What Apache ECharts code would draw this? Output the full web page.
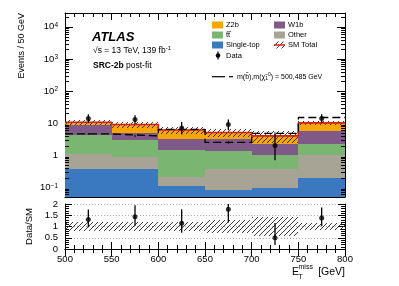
<!DOCTYPE html>
<html><head><meta charset="utf-8">
<script src="https://cdn.jsdelivr.net/npm/echarts@6/dist/echarts.min.js"></script>
<style>html,body{margin:0;padding:0;background:#fff}#c{width:399px;height:286px}</style>
</head><body><div id="c"></div>
<script>
// ---- data ----
const binEdges   = [500, 550, 600, 650, 700, 750, 800];
const singleTop  = [0.38, 0.36, 0.107, 0.081, 0.098, 0.20];
const other      = [0.73, 0.53, 0.11, 0.28, 0.28, 0.80];
const ttbar      = [3.1, 2.0, 1.21, 1.0, 0.67, 1.3];
const w1b        = [4.5, 2.2, 1.87, 1.8, 1.25, 3.5];
const z2b        = [2.0, 4.0, 2.8, 1.94, 1.7, 4.4];
const totalUnc   = [2.1, 1.8, 1.35, 1.4, 1.6, 1.5];
const dataVals   = [14, 13, 7, 9, 2, 14];
const dataErrUp  = [4.8, 4.7, 3.8, 4.1, 2.6, 4.8];
const dataErrDn  = [3.7, 3.6, 2.6, 3.0, 1.3, 3.7];
const signal     = [4.6, 4.0, 6.4, 2.5, 4.8, 15];
const signalErr  = [0.3, 0.3, 0.4, 0.25, 0.4, 0.8];
const yMainMin = 0.05, yMainMax = 27000;

const FONT = 'Liberation Sans';
const colors = {z2b:'#f9a602', w1b:'#7f5a88', ttbar:'#7ab571', other:'#a7a495', st:'#3a79c0', red:'#d41e1e'};

// hatch pattern
function makeHatch(){
  const s = 5, c = document.createElement('canvas');
  c.width = s; c.height = s;
  const g = c.getContext('2d');
  g.strokeStyle = '#222'; g.lineWidth = 0.9;
  g.beginPath();
  g.moveTo(0, s); g.lineTo(s, 0);
  g.moveTo(-1, 1); g.lineTo(1, -1);
  g.moveTo(s-1, s+1); g.lineTo(s+1, s-1);
  g.stroke();
  return c;
}
const hatch = {image: makeHatch(), repeat: 'repeat'};

const nb = singleTop.length;
const comps = [singleTop, other, ttbar, w1b, z2b];
const compColors = [colors.st, colors.other, colors.ttbar, colors.w1b, colors.z2b];
const totals = [];
for (let j = 0; j < nb; j++) totals.push(comps.reduce((a, c) => a + c[j], 0));
const centers = binEdges.slice(0, nb).map((e, j) => (e + binEdges[j+1]) / 2);

function stackData(k){
  const out = [];
  for (let j = 0; j < nb; j++){
    let lo = 0; for (let i = 0; i < k; i++) lo += comps[i][j];
    const hi = lo + comps[k][j];
    out.push([binEdges[j], binEdges[j+1], Math.max(lo, yMainMin), hi]);
  }
  return out;
}
function rectRender(fillFn){
  return function(params, api){
    const p0 = api.coord([api.value(0), api.value(2)]);
    const p1 = api.coord([api.value(1), api.value(3)]);
    const x0 = Math.round(p0[0]), x1 = Math.round(p1[0]);
    const yTop = Math.round(p1[1]), yBot = Math.round(p0[1]);
    return {type:'rect', shape:{x:x0, y:yTop, width:x1-x0, height:yBot-yTop},
      style:{fill: fillFn ? fillFn : api.visual('color')}};
  };
}
function errRender(w){
  return function(params, api){
    const a = api.coord([api.value(0), api.value(2)]);
    const b = api.coord([api.value(0), api.value(3)]);
    return {type:'line', shape:{x1:a[0], y1:a[1], x2:b[0], y2:b[1]}, style:{stroke:'#000', lineWidth:w}};
  };
}
function stepData(vals){
  const d = vals.map((v, j) => [binEdges[j], v]);
  d.push([binEdges[nb], vals[nb-1]]);
  return d;
}

const series = [];
comps.forEach((c, k) => {
  series.push({type:'custom', xAxisIndex:0, yAxisIndex:0, clip:true, silent:true,
    itemStyle:{color:compColors[k]}, encode:{x:[0,1], y:[2,3]},
    renderItem: rectRender(null), data: stackData(k), z:2});
});
// uncertainty hatch main
series.push({type:'custom', xAxisIndex:0, yAxisIndex:0, clip:true, silent:true, encode:{x:[0,1], y:[2,3]},
  renderItem: rectRender(hatch), z:3,
  data: totals.map((t, j) => [binEdges[j], binEdges[j+1], t - totalUnc[j], t + totalUnc[j]])});
// red total line
series.push({type:'line', xAxisIndex:0, yAxisIndex:0, step:'end', symbol:'none', silent:true, z:4,
  lineStyle:{color:colors.red, width:1.6}, data: stepData(totals)});
// signal dashed
series.push({type:'line', xAxisIndex:0, yAxisIndex:0, step:'end', symbol:'none', silent:true, z:5,
  lineStyle:{color:'#000', width:1.3, type:[8,4]}, data: stepData(signal)});
series.push({type:'custom', xAxisIndex:0, yAxisIndex:0, clip:true, silent:true, z:5, encode:{x:0, y:[2,3]},
  renderItem: errRender(1), data: signal.map((s, j) => [centers[j], s, s - signalErr[j], s + signalErr[j]])});
// data
series.push({type:'custom', xAxisIndex:0, yAxisIndex:0, clip:true, silent:true, z:6, encode:{x:0, y:[2,3]},
  renderItem: errRender(1.3), data: dataVals.map((v, j) => [centers[j], v, v - dataErrDn[j], v + dataErrUp[j]])});
series.push({type:'scatter', xAxisIndex:0, yAxisIndex:0, symbol:'circle', symbolSize:5, silent:true, z:7,
  itemStyle:{color:'#000'}, data: dataVals.map((v, j) => [centers[j], v])});
// log minor ticks (main)
const minorVals = [];
for (let d = -2; d <= 4; d++) for (let k = 2; k <= 9; k++){ const v = k * Math.pow(10, d); if (v > yMainMin && v < yMainMax) minorVals.push([500, v]); }
series.push({type:'custom', xAxisIndex:0, yAxisIndex:0, silent:true, z:10, encode:{x:0, y:1},
  renderItem: function(params, api){
    const l = api.coord([500, api.value(1)]), r = api.coord([800, api.value(1)]);
    const y = Math.round(l[1]) + 0.5;
    return {type:'group', children:[
      {type:'line', shape:{x1:l[0], y1:y, x2:l[0]+4, y2:y}, style:{stroke:'#000', lineWidth:1}},
      {type:'line', shape:{x1:r[0], y1:y, x2:r[0]-4, y2:y}, style:{stroke:'#000', lineWidth:1}}]};
  }, data: minorVals});
// ratio
series.push({type:'custom', xAxisIndex:1, yAxisIndex:1, clip:true, silent:true, encode:{x:[0,1], y:[2,3]},
  renderItem: rectRender(hatch), z:3,
  data: totals.map((t, j) => [binEdges[j], binEdges[j+1], 1 - totalUnc[j]/t, 1 + totalUnc[j]/t])});
series.push({type:'custom', xAxisIndex:1, yAxisIndex:1, clip:true, silent:true, z:6, encode:{x:0, y:[2,3]},
  renderItem: errRender(1.3), data: dataVals.map((v, j) => [centers[j], v/totals[j], (v - dataErrDn[j])/totals[j], (v + dataErrUp[j])/totals[j]])});
series.push({type:'scatter', xAxisIndex:1, yAxisIndex:1, symbol:'circle', symbolSize:5, silent:true, z:7,
  itemStyle:{color:'#000'}, data: dataVals.map((v, j) => [centers[j], v/totals[j]])});

const axLine = {show:true, lineStyle:{color:'#000', width:1}};
const lblFont = {fontFamily:FONT, fontSize:9.5, color:'#000'};
function xAx(grid, pos, labels){
  return {type:'value', gridIndex:grid, position:pos, min:500, max:800, interval:50,
    axisLine:axLine, splitLine:{show:false},
    axisTick:{show:true, inside:true, length:7, lineStyle:{color:'#000'}},
    minorTick:{show:true, splitNumber:5, length:4, lineStyle:{color:'#000'}},
    axisLabel: labels ? Object.assign({show:true, margin:5}, lblFont) : {show:false}};
}
function logLabel(v){
  const l = Math.log10(v), e = Math.round(l);
  if (Math.abs(l - e) > 0.01) return '';
  if (e === 0) return '1';
  if (e === 1) return '10';
  return '10{s|' + (e < 0 ? '\u2212' + (-e) : e) + '}';
}
function yLog(pos, labels){
  return {type:'log', logBase:10, gridIndex:0, position:pos, min:yMainMin, max:yMainMax,
    axisLine:axLine, splitLine:{show:false},
    axisTick:{show:true, inside:true, length:8, lineStyle:{color:'#000'}},
    minorTick:{show:false},
    axisLabel: labels ? Object.assign({show:true, margin:7, formatter:logLabel, showMinLabel:false, showMaxLabel:false,
      rich:{s:{fontFamily:FONT, fontSize:6.5, verticalAlign:'top', lineHeight:7, padding:[0,0,5,0]}}}, lblFont) : {show:false}};
}
function yRatio(pos, labels){
  return {type:'value', gridIndex:1, position:pos, min:0, max:2, interval:0.5,
    axisLine:axLine,
    splitLine:{show:labels, lineStyle:{color:'#aaa', type:[1,2], width:1}},
    axisTick:{show:true, inside:true, length:7, lineStyle:{color:'#000'}},
    minorTick:{show:true, splitNumber:5, length:4, lineStyle:{color:'#000'}},
    axisLabel: labels ? Object.assign({show:true, margin:7}, lblFont) : {show:false}};
}

// legend + texts
const G = [];
function swatch(x, y, c){ G.push({type:'rect', shape:{x:x, y:y-3.5, width:11, height:7}, style:{fill:c}}); }
function ltext(x, y, t, extra){ G.push({type:'text', x:x, y:y, style:Object.assign({text:t, fontFamily:FONT, fontSize:7.5, fill:'#000', verticalAlign:'middle', align:'left'}, extra||{})}); }
const c1 = 212, c2 = 274;
const r = [25, 35, 45, 55.5];
swatch(c1, r[0], colors.z2b); ltext(c1+14, r[0], 'Z2b');
swatch(c2, r[0], colors.w1b); ltext(c2+14, r[0], 'W1b');
swatch(c1, r[1], colors.ttbar); ltext(c1+14, r[1], 'tt\u0305');
swatch(c2, r[1], colors.other); ltext(c2+14, r[1], 'Other');
swatch(c1, r[2], colors.st); ltext(c1+14, r[2], 'Single-top');
G.push({type:'rect', shape:{x:c2, y:r[2]-3.5, width:11, height:7}, style:{fill:hatch}});
G.push({type:'line', shape:{x1:c2, y1:r[2], x2:c2+11, y2:r[2]}, style:{stroke:colors.red, lineWidth:1.5}});
ltext(c2+14, r[2], 'SM Total');
G.push({type:'line', shape:{x1:c1+6, y1:r[3]-4, x2:c1+6, y2:r[3]+4}, style:{stroke:'#000', lineWidth:1.2}});
G.push({type:'circle', shape:{cx:c1+6, cy:r[3], r:2.3}, style:{fill:'#000'}});
ltext(c1+14, r[3], 'Data');
G.push({type:'line', shape:{x1:212, y1:76.7, x2:225, y2:76.7}, style:{stroke:'#000', lineWidth:1.2}});
G.push({type:'line', shape:{x1:229, y1:76.7, x2:233, y2:76.7}, style:{stroke:'#000', lineWidth:1.2}});
ltext(237, 76.7, 'm(b\u0303),m(\u03c7\u0303{sub|1}{sup|0}) = 500,485 GeV', {fontSize:7,
  rich:{sub:{fontFamily:FONT, fontSize:5, verticalAlign:'bottom', padding:[4,0,0,0]}, sup:{fontFamily:FONT, fontSize:5, verticalAlign:'top', padding:[0,0,4,0]}}});
// ATLAS text
G.push({type:'text', x:92, y:37, style:{text:'ATLAS', fontFamily:FONT, fontSize:13, fontWeight:'bold', fontStyle:'italic', fill:'#000', verticalAlign:'middle'}});
G.push({type:'text', x:93, y:51, style:{text:'\u221As = 13 TeV, 139 fb{s|-1}', fontFamily:FONT, fontSize:8.5, fill:'#000', verticalAlign:'middle',
  rich:{s:{fontFamily:FONT, fontSize:6, verticalAlign:'top', padding:[0,0,5,0]}}}});
G.push({type:'text', x:93, y:66, style:{text:'{b|SRC-2b} post-fit', fontFamily:FONT, fontSize:8.5, fill:'#000', verticalAlign:'middle',
  rich:{b:{fontFamily:FONT, fontSize:8.5, fontWeight:'bold'}}}});
// axis titles
G.push({type:'text', x:22, y:13, rotation:Math.PI/2, style:{text:'Events / 50 GeV', fontFamily:FONT, fontSize:9, fill:'#000', align:'right', verticalAlign:'middle'}});
G.push({type:'text', x:29, y:226.5, rotation:Math.PI/2, style:{text:'Data/SM', fontFamily:FONT, fontSize:9.5, fill:'#000', align:'center', verticalAlign:'middle'}});
G.push({type:'text', x:292, y:272, style:{text:'E', fontFamily:FONT, fontSize:10.5, fill:'#000', verticalAlign:'middle'}});
G.push({type:'text', x:298.5, y:267, style:{text:'miss', fontFamily:FONT, fontSize:7, fill:'#000', verticalAlign:'middle'}});
G.push({type:'text', x:298.5, y:277, style:{text:'T', fontFamily:FONT, fontSize:7, fill:'#000', verticalAlign:'middle'}});
G.push({type:'text', x:345, y:272, style:{text:'[GeV]', fontFamily:FONT, fontSize:10.5, fill:'#000', align:'right', verticalAlign:'middle'}});

const option = {
  animation:false,
  backgroundColor:'#fff',
  grid:[{left:65, top:13, width:280, height:184}, {left:65, top:204, width:280, height:45}],
  xAxis:[xAx(0,'bottom',false), xAx(1,'bottom',true), xAx(0,'top',false), xAx(1,'top',false)],
  yAxis:[yLog('left',true), yRatio('left',true), yLog('right',false), yRatio('right',false)],
  series: series,
  graphic: G
};
const chart = echarts.init(document.getElementById('c'), null, {renderer:'canvas'});
chart.setOption(option);
</script></body></html>
